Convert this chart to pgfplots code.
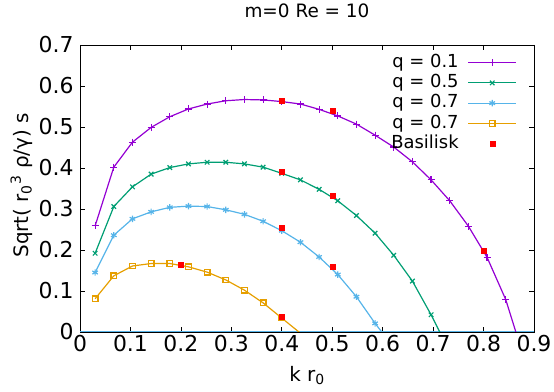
\documentclass[border=0pt]{standalone}
\usepackage{fontspec}
\setmainfont{DejaVu Sans}
\usepackage{pgfplots}
\usepackage{pgfplotstable}
\pgfplotsset{compat=1.18}
\definecolor{cpur}{HTML}{9400D3}
\definecolor{cgrn}{HTML}{009E73}
\definecolor{cblu}{HTML}{56B4E9}
\definecolor{corg}{HTML}{E69F00}
\pgfplotsset{mylegimg/.style={legend image code/.code={\draw[##1,mark indices={2}] plot coordinates {(0bp,0bp) (24bp,0bp) (48bp,0bp)};}}}

\pgfplotstableread{
k y
0.030 0.259
0.067 0.402
0.104 0.463
0.141 0.499
0.178 0.525
0.215 0.544
0.252 0.556
0.289 0.564
0.326 0.567
0.363 0.566
0.400 0.562
0.437 0.556
0.474 0.543
0.511 0.527
0.548 0.507
0.585 0.480
0.622 0.451
0.659 0.415
0.696 0.371
0.733 0.320
0.770 0.258
0.807 0.182
0.844 0.079
0.881 -0.067
}\qone

\pgfplotstableread{
k y
0.030 0.192
0.067 0.306
0.104 0.354
0.141 0.385
0.178 0.401
0.215 0.410
0.252 0.414
0.289 0.414
0.326 0.410
0.363 0.402
0.400 0.387
0.437 0.371
0.474 0.348
0.511 0.320
0.548 0.284
0.585 0.241
0.622 0.187
0.659 0.124
0.696 0.042
0.733 -0.049
}\qfive

\pgfplotstableread{
k y
0.030 0.145
0.067 0.236
0.104 0.276
0.141 0.293
0.178 0.304
0.215 0.307
0.252 0.306
0.289 0.298
0.326 0.287
0.363 0.270
0.400 0.247
0.437 0.219
0.474 0.183
0.511 0.140
0.548 0.086
0.585 0.021
0.622 -0.038
}\qsevenA

\pgfplotstableread{
k y
0.030 0.081
0.067 0.137
0.104 0.161
0.141 0.167
0.178 0.167
0.215 0.159
0.252 0.146
0.289 0.127
0.326 0.102
0.363 0.071
0.400 0.034
0.437 -0.003
}\qsevenB

\pgfplotstableread{
k y
0.2 0.164
0.4 0.038
0.4 0.254
0.5 0.160
0.4 0.391
0.5 0.332
0.4 0.564
0.5 0.540
0.8 0.198
}\basilisk

\begin{document}
\begin{tikzpicture}
\begin{axis}[
  name=ax,
  scale only axis,
  width=454bp, height=287bp,
  xmin=0, xmax=0.9, ymin=0, ymax=0.7,
  xtick={0,0.1,0.2,0.3,0.4,0.5,0.6,0.7,0.8,0.9},
  ytick={0,0.1,0.2,0.3,0.4,0.5,0.6,0.7},
  tick align=inside,
  major tick length=5bp,
  tick style={black, line width=0.6pt},
  axis line style={black, line width=0.8pt},
  /pgf/number format/assume math mode=true,
  /pgf/number format/fixed,
  ticklabel style={font=\fontsize{22}{26}\selectfont},
  yticklabel style={xshift=-3bp},
  label style={font=\fontsize{20}{24}\selectfont},
  xlabel={k r\textsubscript{0}},
  xlabel style={at={(axis description cs:0.5,0)}, anchor=base, yshift=-49.7bp},
  ylabel={Sqrt( r\textsubscript{0}\textsuperscript{3} ρ/γ) s},
  ylabel style={at={(axis description cs:0,0.5)}, anchor=base, yshift=51.7bp, xshift=3bp},
  title={m=0 Re = 10},
  title style={font=\fontsize{18.5}{22}\selectfont, at={(axis description cs:0.5,1)}, anchor=base, yshift=21.5bp},
  legend style={draw=none, fill=none, at={(0.9626,0.9697)}, anchor=north east,
    font=\fontsize{18}{21}\selectfont, row sep=2.75bp, column sep=9bp, inner sep=0pt,
    nodes={inner sep=0pt, text height=13.5bp, text depth=4bp}},
  legend cell align=right,
  legend plot pos=right,
]
\addplot[cblu, line width=1.2pt, forget plot] coordinates {(0,0) (0.9,0)};
\addplot[cpur, line width=1.2pt, mark=+, mark size=3.5bp, mylegimg,
  mark indices={1,2,3,4,5,6,7,8,9,10,11,12,13,14,15,16,17,18,19,20,21,22,23}]
  table[x=k,y=y] {\qone};
\addlegendentry{q = 0.1}
\addplot[cgrn, line width=1.2pt, mark=x, mark size=3.2bp, mylegimg,
  mark indices={1,2,3,4,5,6,7,8,9,10,11,12,13,14,15,16,17,18,19}]
  table[x=k,y=y] {\qfive};
\addlegendentry{q = 0.5}
\addplot[cblu, line width=1.2pt, mark=asterisk, mark size=3.2bp, mylegimg,
  mark indices={1,2,3,4,5,6,7,8,9,10,11,12,13,14,15,16}]
  table[x=k,y=y] {\qsevenA};
\addlegendentry{q = 0.7}
\addplot[corg, line width=1.2pt, mark=square, mark size=2.8bp, mylegimg,
  mark indices={1,2,3,4,5,6,7,8,9,10,11}]
  table[x=k,y=y] {\qsevenB};
\addlegendentry{q = 0.7}
\addplot[only marks, red, mark=square*, mark size=2.5bp, mylegimg]
  table[x=k,y=y] {\basilisk};
\addlegendentry{Basilisk}
\end{axis}
\pgfresetboundingbox
\path ([xshift=-80bp,yshift=-60bp]ax.south west) rectangle ([xshift=20bp,yshift=45bp]ax.north east);
\end{tikzpicture}
\end{document}
